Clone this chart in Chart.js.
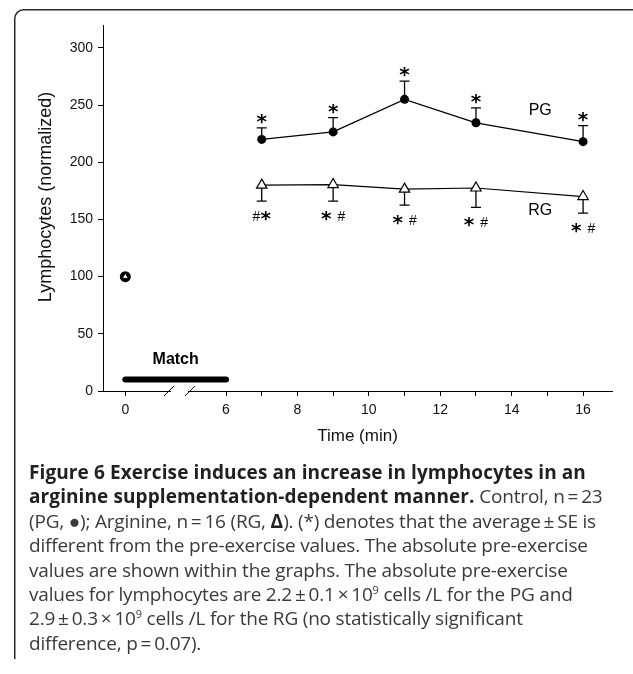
<!DOCTYPE html>
<html>
<head>
<meta charset="utf-8">
<title>Figure 6 - Lymphocytes during exercise</title>
<script src="https://cdn.jsdelivr.net/npm/chart.js"></script>
<style>
    html, body { margin: 0; padding: 0; background: #fff; }
    body { width: 633px; height: 674px; position: relative; overflow: hidden; }
    #chart-wrap { position: absolute; left: 0; top: 0; width: 633px; height: 674px; }
    #caption {
        position: absolute; left: 29px; top: 460px;
        font-family: "Open Sans", sans-serif; font-size: 19px; line-height: 24.4px;
        color: #3a3a3a; white-space: nowrap; letter-spacing: -0.2px;
    }
    #caption b { color: #231f20; letter-spacing: 0.1px; }
    #caption sup { font-size: 11px; vertical-align: 7px; line-height: 0; }
</style>
</head>
<body>
<div id="chart-wrap"><canvas id="lymph-chart" width="633" height="674"></canvas></div>
<div id="caption">
    <div><b>Figure 6 Exercise induces an increase in lymphocytes in an</b></div>
    <div><b>arginine supplementation-dependent manner.</b> Control, n&thinsp;=&thinsp;23</div>
    <div>(PG, ●); Arginine, n&thinsp;=&thinsp;16 (RG, <b>Δ</b>). (*) denotes that the average&thinsp;±&thinsp;SE is</div>
    <div>different from the pre-exercise values. The absolute pre-exercise</div>
    <div>values are shown within the graphs. The absolute pre-exercise</div>
    <div>values for lymphocytes are 2.2&thinsp;±&thinsp;0.1&thinsp;×&thinsp;10<sup>9</sup> cells /L for the PG and</div>
    <div>2.9&thinsp;±&thinsp;0.3&thinsp;×&thinsp;10<sup>9</sup> cells /L for the RG (no statistically significant</div>
    <div>difference, p&thinsp;=&thinsp;0.07).</div>
</div>
<script>
// Sampling times after the match (min)
const times = [7, 9, 11, 13, 16];
// Placebo group (PG, filled circles): mean and SE, normalized to pre-exercise
const pgMean = [220, 226.5, 255, 234.5, 218];
const pgSE = [10, 12.5, 16, 13, 14];
// Arginine group (RG, open triangles)
const rgMean = [180, 180.5, 176.5, 177.5, 170];
const rgSE = [14, 14.5, 14, 17, 14.5];
// Pre-exercise value (both groups)
const baselineTime = 0;
const baselineValue = 100;
// Significance marks above PG / below RG
const pgMarks = ['*', '*', '*', '*', '*'];
const rgMarks = ['#*', '* #', '* #', '* #', '* #'];
// Match period bar
const matchSpan = [0, 6];
const matchLevel = 10;
// Axis ticks
const xTickTimes = [0, 6, 7, 8, 9, 10, 11, 12, 13, 14, 15, 16];
const xLabelTimes = [0, 6, 8, 10, 12, 14, 16];
const yTicks = [0, 50, 100, 150, 200, 250, 300];
// Axis break marks (min, inside the squeezed 0-6 part)
const breakTimes = [2.6, 3.85];
// Group labels
const groupLabels = [
    { text: 'PG', t: 14.8, v: 245 },
    { text: 'RG', t: 14.8, v: 157.5 }
];

const FONT = '"Liberation Sans", Arial, Helvetica, sans-serif';
const STAR_FONT = 'bold 20px "DejaVu Sans", sans-serif';
const HASH_FONT = '14px ' + FONT;

// The 0-6 min stretch is drawn squeezed (broken axis)
const BREAK_AT = 6;
const BREAK_SQUEEZE = 0.47;
function axisPos(t) {
    return t >= BREAK_AT ? t : BREAK_AT - (BREAK_AT - t) * BREAK_SQUEEZE;
}

/**
 * Draw a mark string like "* #" centered on (cx, cy), each glyph centered by its ink
 */
function drawMark(ctx, text, cx, cy) {
    const parts = [...text].map(ch => {
        const font = ch === '*' ? STAR_FONT : HASH_FONT;
        ctx.font = font;
        const w = ch === ' ' ? 6 : ctx.measureText(ch).width;
        return { ch, font, w };
    });
    const total = parts.reduce((s, p) => s + p.w, 0);
    let x = cx - total / 2;
    ctx.textAlign = 'left';
    ctx.textBaseline = 'alphabetic';
    parts.forEach(p => {
        if (p.ch !== ' ') {
            ctx.font = p.font;
            const m = ctx.measureText(p.ch);
            const base = cy + (m.actualBoundingBoxAscent - m.actualBoundingBoxDescent) / 2;
            ctx.fillText(p.ch, x, base);
        }
        x += p.w;
    });
}

const decorations = {
    id: 'decorations',
    beforeDraw(chart) {
        // figure frame: rounded top-left corner, open to the right and bottom
        const ctx = chart.ctx;
        ctx.save();
        ctx.strokeStyle = '#2b2b2b';
        ctx.lineWidth = 1.5;
        ctx.beginPath();
        ctx.moveTo(14.75, 659);
        ctx.lineTo(14.75, 19);
        ctx.arcTo(14.75, 9.75, 24, 9.75, 9);
        ctx.lineTo(640, 9.75);
        ctx.stroke();
        ctx.restore();
    },
    beforeDatasetsDraw(chart) {
        const { ctx, scales: { x, y } } = chart;
        ctx.save();
        ctx.strokeStyle = '#000';
        ctx.lineWidth = 1.3;
        times.forEach((t, i) => {
            const px = x.getPixelForValue(axisPos(t));
            const bars = [
                [pgMean[i], pgMean[i] + pgSE[i]],
                [rgMean[i], rgMean[i] - rgSE[i]]
            ];
            bars.forEach(([from, to]) => {
                const y0 = y.getPixelForValue(from);
                const y1 = y.getPixelForValue(to);
                ctx.beginPath();
                ctx.moveTo(px, y0);
                ctx.lineTo(px, y1);
                ctx.moveTo(px - 5, y1);
                ctx.lineTo(px + 5, y1);
                ctx.stroke();
            });
        });
        ctx.restore();
    },
    afterDraw(chart) {
        const { ctx, scales: { x, y } } = chart;
        ctx.save();
        ctx.fillStyle = '#000';

        // significance marks
        times.forEach((t, i) => {
            const px = x.getPixelForValue(axisPos(t));
            drawMark(ctx, pgMarks[i], px, y.getPixelForValue(pgMean[i] + pgSE[i]) - 9);
            drawMark(ctx, rgMarks[i], px, y.getPixelForValue(rgMean[i] - rgSE[i]) + 15);
        });

        // PG / RG labels
        ctx.font = '16px ' + FONT;
        ctx.textAlign = 'center';
        ctx.textBaseline = 'middle';
        groupLabels.forEach(g => {
            ctx.fillText(g.text, x.getPixelForValue(g.t), y.getPixelForValue(g.v));
        });

        // "Match" above the bar
        const mx = (x.getPixelForValue(axisPos(matchSpan[0])) + x.getPixelForValue(axisPos(matchSpan[1]))) / 2;
        ctx.font = 'bold 16px ' + FONT;
        ctx.fillText('Match', mx, y.getPixelForValue(matchLevel) - 20);

        // axis break: gap in the axis line and two slashes
        const axisY = y.getPixelForValue(0);
        const b0 = x.getPixelForValue(axisPos(breakTimes[0]));
        const b1 = x.getPixelForValue(axisPos(breakTimes[1]));
        ctx.fillStyle = '#fff';
        ctx.fillRect(b0 + 2, axisY - 2, b1 - b0 - 4, 4);
        ctx.strokeStyle = '#000';
        ctx.lineWidth = 1;
        [b0, b1].forEach(bx => {
            ctx.beginPath();
            ctx.moveTo(bx - 5, axisY + 5);
            ctx.lineTo(bx + 5, axisY - 5);
            ctx.stroke();
        });

        // y axis title
        ctx.fillStyle = '#111';
        ctx.font = '18px ' + FONT;
        ctx.translate(46, 197);
        ctx.rotate(-Math.PI / 2);
        ctx.fillText('Lymphocytes (normalized)', 0, 0);
        ctx.restore();
    }
};

document.addEventListener('DOMContentLoaded', function() {
    Chart.defaults.font.family = FONT;
    Chart.defaults.color = '#111';

    const ctx = document.getElementById('lymph-chart').getContext('2d');

    new Chart(ctx, {
        type: 'line',
        data: {
            datasets: [
                {
                    label: 'RG pre',
                    data: [{ x: axisPos(baselineTime), y: baselineValue }],
                    showLine: false,
                    pointStyle: 'triangle',
                    pointRadius: 3.6,
                    pointBackgroundColor: '#fff',
                    pointBorderColor: '#000',
                    pointBorderWidth: 1
                },
                {
                    label: 'PG pre',
                    data: [{ x: axisPos(baselineTime), y: baselineValue }],
                    showLine: false,
                    pointStyle: 'circle',
                    pointRadius: 5.5,
                    pointBackgroundColor: '#000',
                    pointBorderColor: '#000',
                    pointBorderWidth: 0
                },
                {
                    label: 'PG',
                    data: times.map((t, i) => ({ x: axisPos(t), y: pgMean[i] })),
                    borderColor: '#000',
                    borderWidth: 1.3,
                    pointStyle: 'circle',
                    pointRadius: 4.5,
                    pointBackgroundColor: '#000',
                    pointBorderColor: '#000',
                    pointBorderWidth: 0
                },
                {
                    label: 'RG',
                    data: times.map((t, i) => ({ x: axisPos(t), y: rgMean[i] })),
                    borderColor: '#000',
                    borderWidth: 1.2,
                    pointStyle: 'triangle',
                    pointRadius: 6,
                    pointBackgroundColor: '#fff',
                    pointBorderColor: '#000',
                    pointBorderWidth: 1.2
                },
                {
                    label: 'Match',
                    data: matchSpan.map(t => ({ x: axisPos(t), y: matchLevel })),
                    borderColor: '#000',
                    borderWidth: 6,
                    borderCapStyle: 'round',
                    pointRadius: 0
                }
            ]
        },
        options: {
            responsive: false,
            devicePixelRatio: 1,
            animation: false,
            events: [],
            layout: { padding: { left: 0, right: 21, top: 25, bottom: 224 } },
            plugins: {
                legend: { display: false },
                tooltip: { enabled: false }
            },
            scales: {
                x: {
                    type: 'linear',
                    min: 2.555,
                    max: 16.81,
                    afterFit: scale => { scale.height = 59; },
                    afterBuildTicks: scale => {
                        scale.ticks = xTickTimes.map(t => ({ value: axisPos(t) }));
                    },
                    ticks: {
                        autoSkip: false,
                        maxRotation: 0,
                        padding: 6,
                        font: { size: 14 },
                        color: '#111',
                        callback: (value, index) =>
                            xLabelTimes.includes(xTickTimes[index]) ? String(xTickTimes[index]) : ''
                    },
                    grid: { drawOnChartArea: false, drawTicks: true, tickLength: 5, color: '#000' },
                    border: { display: true, color: '#000', width: 1 },
                    title: {
                        display: true,
                        text: 'Time (min)',
                        color: '#111',
                        font: { size: 17 },
                        padding: { top: 0, bottom: 3 }
                    }
                },
                y: {
                    type: 'linear',
                    min: 0,
                    max: 320,
                    afterFit: scale => { scale.width = 103; },
                    afterBuildTicks: scale => {
                        scale.ticks = yTicks.map(v => ({ value: v }));
                    },
                    ticks: { padding: 5, font: { size: 14 }, color: '#111' },
                    grid: { drawOnChartArea: false, drawTicks: true, tickLength: 5, color: '#000' },
                    border: { display: true, color: '#000', width: 1 }
                }
            }
        },
        plugins: [decorations]
    });
});
</script>
</body>
</html>
